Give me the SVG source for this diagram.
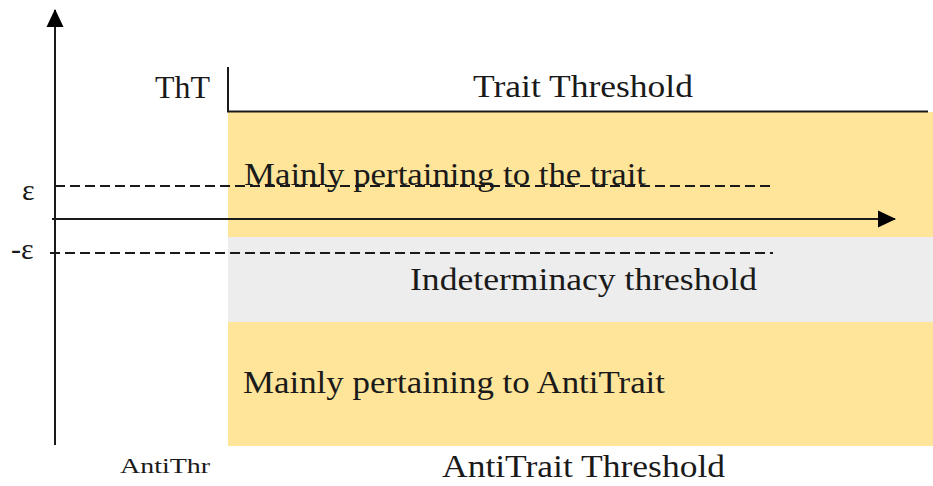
<svg xmlns="http://www.w3.org/2000/svg" width="933" height="486" viewBox="0 0 933 486">
<style>
text{font-family:"Liberation Serif","DejaVu Serif",serif;fill:#1a1a1a;}
.lbl{font-size:31px;}
.axis{stroke:#1a1a1a;stroke-width:2;fill:none;}
.dash{stroke:#1a1a1a;stroke-width:1.8;stroke-dasharray:10,5;fill:none;}
</style>
<defs>
<marker id="ah" markerWidth="18" markerHeight="18" refX="17" refY="9" orient="auto" markerUnits="userSpaceOnUse">
<path d="M0,0.5 L18,9 L0,17.5 Z" fill="#000"/>
</marker>
</defs>
<g id="regions">
<rect id="trait-band" x="228" y="112" width="705" height="125" fill="#FFE599"/>
<rect id="indet-band" x="228" y="237" width="705" height="85" fill="#EDEDED"/>
<rect id="anti-band" x="228" y="322" width="705" height="124" fill="#FFE599"/>
</g>
<g id="connectors">
<line class="axis" x1="55" y1="445" x2="55" y2="10" marker-end="url(#ah)"/>
<line class="axis" x1="52" y1="219" x2="895" y2="219" marker-end="url(#ah)"/>
<polyline class="axis" points="228,67 228,111.5 928,111.5"/>
<line class="dash" x1="55" y1="186" x2="773" y2="186"/>
<line class="dash" x1="50" y1="253" x2="773" y2="253"/>
</g>
<g id="labels">
<text x="155" y="98" class="lbl" textLength="55" lengthAdjust="spacingAndGlyphs">ThT</text>
<text x="473" y="97" class="lbl" textLength="220" lengthAdjust="spacingAndGlyphs">Trait Threshold</text>
<text x="22" y="200" style="font-size:30px">ε</text>
<text x="11" y="259" style="font-size:30px">-ε</text>
<text x="244" y="185" class="lbl" textLength="402" lengthAdjust="spacingAndGlyphs">Mainly pertaining to the trait</text>
<text x="410" y="290" class="lbl" textLength="347" lengthAdjust="spacingAndGlyphs">Indeterminacy threshold</text>
<text x="243" y="393" class="lbl" textLength="422" lengthAdjust="spacingAndGlyphs">Mainly pertaining to AntiTrait</text>
<text x="120" y="473" style="font-size:20px" textLength="90" lengthAdjust="spacingAndGlyphs">AntiThr</text>
<text x="442" y="477" class="lbl" textLength="283" lengthAdjust="spacingAndGlyphs">AntiTrait Threshold</text>
</g>
</svg>
